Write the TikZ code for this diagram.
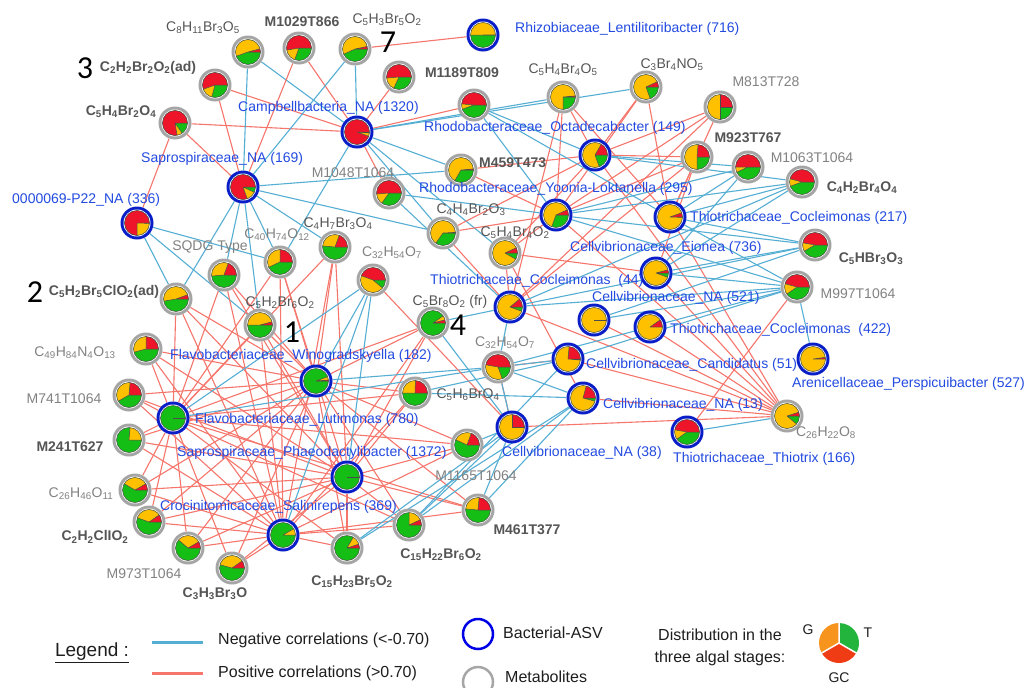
\documentclass[tikz,border=0pt]{standalone}
\usepackage{fontspec}
\setmainfont{Liberation Sans}
\newfontfamily\numfont{Carlito}
\pgfdeclarelayer{bg}
\pgfsetlayers{bg,main}
\definecolor{pr}{RGB}{238,20,42}
\definecolor{py}{RGB}{255,192,0}
\definecolor{pg}{RGB}{20,190,20}
\definecolor{ringb}{RGB}{10,30,200}
\definecolor{ringg}{RGB}{165,165,165}
\definecolor{negc}{RGB}{85,175,212}
\definecolor{posc}{RGB}{246,118,108}
\definecolor{btxt}{RGB}{35,75,225}
\definecolor{mtxt}{RGB}{130,130,130}
\definecolor{mdark}{RGB}{85,85,85}
\definecolor{lgo}{RGB}{247,148,29}
\definecolor{lgg}{RGB}{34,180,60}
\definecolor{lgr}{RGB}{240,60,20}
\definecolor{lgblue}{RGB}{0,0,230}
\definecolor{lgtxt}{RGB}{30,30,30}
\tikzset{
 nd/.style={circle,minimum size=33pt,inner sep=0pt},
 pl/.style={draw=black!70,line width=0.5pt},
 posl/.style={draw=posc,line width=1.1pt},
 negl/.style={draw=negc,line width=1.1pt},
 blab/.style={text=btxt,font=\fontsize{14}{16}\selectfont,inner sep=0pt},
 mlab/.style={text=mtxt,font=\fontsize{14}{16}\selectfont,inner sep=0pt},
 mlabd/.style={text=mdark,font=\fontsize{14}{16}\selectfont,inner sep=0pt},
 mlabb/.style={text=mdark,font=\fontsize{14}{16}\selectfont\bfseries,inner sep=0pt},
 num/.style={font=\numfont\fontsize{32}{34}\selectfont,inner sep=0pt},
 lg/.style={text=lgtxt,font=\fontsize{16}{22}\selectfont,inner sep=0pt},
}
\newcommand\ssb[1]{\textsubscript{#1}}
\newcommand\mkpie[3]{%
 \fill[pg] (#1.center) circle (12.5pt);
 \ifnum#2>0 \fill[pr] (#1.center) -- ++(0:12.5pt) arc[start angle=0,end angle=#2,radius=12.5pt] -- cycle;\fi
 \ifnum#3>#2 \fill[py] (#1.center) -- ++(#2:12.5pt) arc[start angle=#2,end angle=#3,radius=12.5pt] -- cycle;\fi
 \draw[pl] (#1.center) -- ++(0:12.5pt) (#1.center) -- ++(#2:12.5pt) (#1.center) -- ++(#3:12.5pt);
 \draw[pl] (#1.center) circle (12.5pt);}
\newcommand\mkbac[5]{\node[nd] (#1) at (#2,-#3) {};
 \fill[ringb] (#1.center) circle (16.5pt);
 \fill[white] (#1.center) circle (13.5pt);
 \mkpie{#1}{#4}{#5}}
\newcommand\mkmet[5]{\node[nd] (#1) at (#2,-#3) {};
 \fill[ringg] (#1.center) circle (16.5pt);
 \fill[white] (#1.center) circle (13.5pt);
 \mkpie{#1}{#4}{#5}}
\newcommand\edgeset[3]{\foreach \t in {#3}{\draw[#1] (#2) -- (\t);}}
\begin{document}
\begin{tikzpicture}[x=1pt,y=1pt]
\useasboundingbox (0,0) rectangle (1028,-688);
% ---------- metabolites
\mkmet{c8}{248}{52}{15}{200}
\mkmet{c2ad}{215}{85}{200}{255}
\mkmet{c5h4o4}{175}{123}{280}{305}
\mkmet{m1029}{299}{48}{190}{250}
\mkmet{c5h3}{355}{49}{12}{205}
\mkmet{m1189}{399}{77}{185}{245}
\mkmet{mx}{474}{105}{175}{200}
\mkmet{m1048}{389}{193}{185}{235}
\mkmet{m459}{461}{170}{5}{240}
\mkmet{c4h4}{443}{233}{3}{235}
\mkmet{c5h4o2}{505}{253}{25}{330}
\mkmet{c5h4o5}{563}{97}{5}{270}
\mkmet{c3br}{646}{87}{25}{290}
\mkmet{m813}{720}{107}{90}{270}
\mkmet{m923}{697}{157}{85}{270}
\mkmet{m1063}{748}{167}{180}{205}
\mkmet{c4h2}{802}{182}{165}{200}
\mkmet{c5hbr}{815}{245}{170}{210}
\mkmet{m997}{797}{287}{165}{215}
\mkmet{c26h22}{787}{416}{18}{320}
\mkmet{sqdg}{224}{275}{70}{185}
\mkmet{c5h2cl}{176}{299}{20}{190}
\mkmet{c49}{146}{349}{90}{195}
\mkmet{m741}{129}{395}{85}{210}
\mkmet{m241}{129}{440}{0}{85}
\mkmet{c26h46}{135}{490}{30}{150}
\mkmet{c2h2cl}{149}{522}{35}{160}
\mkmet{m973}{188}{548}{30}{140}
\mkmet{c3h3}{232}{568}{35}{165}
\mkmet{c15h23}{347}{548}{18}{60}
\mkmet{c15h22}{409}{525}{25}{90}
\mkmet{m461}{478}{510}{85}{175}
\mkmet{m1165}{467}{445}{70}{155}
\mkmet{c5h6}{415}{393}{88}{180}
\mkmet{c5h2br6}{260}{325}{15}{180}
\mkmet{c40}{280}{262}{90}{205}
\mkmet{c4h7}{335}{247}{70}{175}
\mkmet{c32a}{373}{280}{160}{320}
\mkmet{c5br8}{433}{323}{15}{35}
\mkmet{c32b}{498}{367}{170}{290}
% ---------- bacteria
\mkbac{rhizo}{483}{35}{1}{180}
\mkbac{campb}{357}{132}{340}{355}
\mkbac{sapro}{243}{187}{290}{335}
\mkbac{p22}{137}{223}{270}{358}
\mkbac{octa}{595}{155}{60}{290}
\mkbac{yoon}{556}{215}{25}{250}
\mkbac{coc217}{670}{217}{20}{358}
\mkbac{eion}{656}{273}{15}{340}
\mkbac{coc44}{510}{307}{40}{340}
\mkbac{na521}{594}{320}{0}{360}
\mkbac{coc422}{650}{327}{35}{360}
\mkbac{cand}{568}{359}{85}{355}
\mkbac{na13}{583}{398}{75}{345}
\mkbac{thiox}{687}{432}{170}{215}
\mkbac{na38}{512}{427}{90}{360}
\mkbac{pers}{813}{359}{8}{360}
\mkbac{wino}{316}{381}{5}{20}
\mkbac{luti}{173}{418}{0}{0}
\mkbac{phaeo}{347}{477}{0}{0}
\mkbac{salin}{283}{535}{0}{30}
% ---------- edges
\begin{pgfonlayer}{bg}
\fill[white] (0,0) rectangle (1028,-688);
\edgeset{posl}{rhizo}{c5h3}
\edgeset{posl}{campb}{m1029,m1189,c2ad,c5h4o4,mx,m1048}
\edgeset{negl}{campb}{c8,c5h3,c5h4o5,c3br,m459,c4h4,c5h4o2,c40}
\edgeset{posl}{sapro}{c2ad,c5h4o4,m1029}
\edgeset{negl}{sapro}{c8,c5h3,m459,c4h4,sqdg,c5h2cl,c40,c4h7,c5h2br6}
\edgeset{posl}{p22}{c5h4o4}
\edgeset{negl}{p22}{c5h2cl,c5h2br6,c40}
\foreach \b in {wino,luti,phaeo,salin}{%
 \edgeset{posl}{\b}{c5h2cl,sqdg,c40,c4h7,c5h2br6,c49,m741,m241,c26h46,c2h2cl,m973,c3h3,c15h23,c15h22,m461,m1165,c5h6,c5br8}}
\edgeset{negl}{c32a}{wino,luti,phaeo,salin}
\edgeset{negl}{c32b}{wino,luti}
\edgeset{posl}{c32a}{na38}
\edgeset{posl}{octa}{c5h4o5,c3br,m813,m923,c4h4,c5h4o2,m459,c26h22}
\edgeset{posl}{yoon}{c5h4o5,c3br,m813,m923,c5h4o2,c4h4,c26h22,m459}
\edgeset{posl}{coc217}{c3br,m813,m923,c26h22,c5h4o5}
\edgeset{posl}{coc44}{c5h4o5,m813,c5h4o2,c26h22,c4h4,m923}
\edgeset{posl}{eion}{c26h22,c5h4o2,m923}
\edgeset{posl}{c26h22}{na521,coc422,cand,na13,na38}
\edgeset{posl}{c32b}{cand,na38}
\edgeset{posl}{na13}{c5h4o2}
\edgeset{posl}{thiox}{m997}
\edgeset{negl}{mx}{octa,yoon,coc217}
\edgeset{negl}{m1063}{coc217,octa,yoon,eion}
\edgeset{negl}{c4h2}{coc217,octa,yoon,eion,coc44}
\edgeset{negl}{c5hbr}{coc217,yoon,eion,coc44,na521}
\edgeset{negl}{m997}{coc217,eion,coc44,na521,coc422,cand,pers,yoon}
\edgeset{negl}{c32b}{coc44,coc422,cand,na13,na38}
\edgeset{negl}{m1048}{yoon,coc44}
\edgeset{negl}{thiox}{c26h22}
\edgeset{negl}{c15h23}{na38,na13}
\edgeset{negl}{c15h22}{na38,na13,cand}
\edgeset{negl}{m461}{na38,na13}
\edgeset{negl}{m1165}{na38}
\edgeset{negl}{c5br8}{coc44,na38}
\edgeset{negl}{c5h6}{cand,na13}
\end{pgfonlayer}
% ---------- bacteria labels
\node[blab,anchor=west] (lrhizo) at (515,-29) {Rhizobiaceae\_Lentilitoribacter (716)};
\node[blab,anchor=west] (lcampb) at (238,-108) {Campbellbacteria\_NA (1320)};
\node[blab,anchor=west] (lsapro) at (141,-159) {Saprospiraceae\_NA (169)};
\node[blab,anchor=west] (lp22) at (12,-200) {0000069-P22\_NA (336)};
\node[blab,anchor=west] (locta) at (424,-128) {Rhodobacteraceae\_Octadecabacter (149)};
\node[blab,anchor=west] (lyoon) at (419,-189) {Rhodobacteraceae\_Yoonia-Loktanella (295)};
\node[blab,anchor=west] (lcoc217) at (690,-218) {Thiotrichaceae\_Cocleimonas (217)};
\node[blab,anchor=west] (leion) at (570,-248) {Cellvibrionaceae\_Eionea (736)};
\node[blab,anchor=west] (lcoc44) at (430,-281) {Thiotrichaceae\_Cocleimonas\ \ (44)};
\node[blab,anchor=west] (lna521) at (592,-298) {Cellvibrionaceae\_NA (521)};
\node[blab,anchor=west] (lcoc422) at (670,-330) {Thiotrichaceae\_Cocleimonas\ \ (422)};
\node[blab,anchor=west] (lcand) at (586,-365) {Cellvibrionaceae\_Candidatus (51)};
\node[blab,anchor=west] (lna13) at (603,-405) {Cellvibrionaceae\_NA (13)};
\node[blab,anchor=west] (lthiox) at (673,-459) {Thiotrichaceae\_Thiotrix (166)};
\node[blab,anchor=west] (lna38) at (502,-453) {Cellvibrionaceae\_NA (38)};
\node[blab,anchor=west] (lpers) at (792,-384) {Arenicellaceae\_Perspicuibacter (527)};
\node[blab,anchor=west] (lwino) at (170,-356) {Flavobacteriaceae\_Winogradskyella (182)};
\node[blab,anchor=west] (lluti) at (195,-420) {Flavobacteriaceae\_Lutimonas (780)};
\node[blab,anchor=west] (lphaeo) at (177,-453) {Saprospiraceae\_Phaeodactylibacter (1372)};
\node[blab,anchor=west] (lsalin) at (160,-507) {Crocinitomicaceae\_Salinirepens (369)};
% ---------- metabolite labels
\node[mlabd] (lc8) at (203,-28) {C\ssb{8}H\ssb{11}Br\ssb{3}O\ssb{5}};
\node[mlabb] (lc2ad) at (148,-68) {C\ssb{2}H\ssb{2}Br\ssb{2}O\ssb{2}(ad)};
\node[mlabb] (lc5h4o4) at (121,-112) {C\ssb{5}H\ssb{4}Br\ssb{2}O\ssb{4}};
\node[mlabb] (lm1029) at (302,-22) {M1029T866};
\node[mlabd] (lc5h3) at (387,-20) {C\ssb{5}H\ssb{3}Br\ssb{5}O\ssb{2}};
\node[mlabb] (lm1189) at (462,-73) {M1189T809};
\node[mlab] (lm1048) at (353,-173) {M1048T1064};
\node[mlabb,anchor=west] (lm459) at (479,-163) {M459T473};
\node[mlabd] (lc4h4) at (471,-210) {C\ssb{4}H\ssb{4}Br\ssb{2}O\ssb{3}};
\node[mlabd] (lc5h4o2) at (515,-233) {C\ssb{5}H\ssb{4}Br\ssb{4}O\ssb{2}};
\node[mlabd] (lc5h4o5) at (563,-70) {C\ssb{5}H\ssb{4}Br\ssb{4}O\ssb{5}};
\node[mlabd] (lc3br) at (672,-65) {C\ssb{3}Br\ssb{4}NO\ssb{5}};
\node[mlab] (lm813) at (766,-82) {M813T728};
\node[mlabb] (lm923) at (748,-138) {M923T767};
\node[mlab] (lm1063) at (812,-158) {M1063T1064};
\node[mlabb] (lc4h2) at (862,-188) {C\ssb{4}H\ssb{2}Br\ssb{4}O\ssb{4}};
\node[mlabb] (lc5hbr) at (871,-259) {C\ssb{5}HBr\ssb{3}O\ssb{3}};
\node[mlab] (lm997) at (858,-294) {M997T1064};
\node[mlab] (lc26h22) at (826,-433) {C\ssb{26}H\ssb{22}O\ssb{8}};
\node[mlab] (lsqdg) at (210,-247) {SQDG Type};
\node[mlab] (lc40) at (277,-235) {C\ssb{40}H\ssb{74}O\ssb{12}};
\node[mlabd] (lc4h7) at (338,-224) {C\ssb{4}H\ssb{7}Br\ssb{3}O\ssb{4}};
\node[mlab] (lc32a) at (392,-253) {C\ssb{32}H\ssb{54}O\ssb{7}};
\node[mlabd] (lc5h2br6) at (280,-303) {C\ssb{5}H\ssb{2}Br\ssb{6}O\ssb{2}};
\node[mlabd] (lc5br8) at (450,-302) {C\ssb{5}Br\ssb{8}O\ssb{2} (fr)};
\node[mlab] (lc32b) at (505,-343) {C\ssb{32}H\ssb{54}O\ssb{7}};
\node[mlabd] (lc5h6) at (468,-395) {C\ssb{5}H\ssb{6}BrO\ssb{4}};
\node[mlab] (lm1165) at (476,-476) {M1165T1064};
\node[mlabb] (lm461) at (527,-530) {M461T377};
\node[mlabb] (lc15h22) at (441,-555) {C\ssb{15}H\ssb{22}Br\ssb{6}O\ssb{2}};
\node[mlabb] (lc15h23) at (352,-582) {C\ssb{15}H\ssb{23}Br\ssb{5}O\ssb{2}};
\node[mlabb] (lc3h3) at (215,-594) {C\ssb{3}H\ssb{3}Br\ssb{3}O};
\node[mlab] (lm973) at (144,-574) {M973T1064};
\node[mlabb] (lc2h2cl) at (95,-537) {C\ssb{2}H\ssb{2}ClIO\ssb{2}};
\node[mlab] (lc26h46) at (81,-494) {C\ssb{26}H\ssb{46}O\ssb{11}};
\node[mlabb] (lm241) at (70,-447) {M241T627};
\node[mlab] (lm741) at (64,-399) {M741T1064};
\node[mlab] (lc49) at (75,-353) {C\ssb{49}H\ssb{84}N\ssb{4}O\ssb{13}};
\node[mlabb] (lc5h2cl) at (104,-292) {C\ssb{5}H\ssb{2}Br\ssb{5}ClO\ssb{2}(ad)};
% ---------- numbers
\node[num] (n3) at (85,-68) {3};
\node[num] (n7) at (388,-42) {7};
\node[num] (n2) at (35,-292) {2};
\node[num] (n1) at (292,-332) {1};
\node[num] (n4) at (458,-325) {4};
% ---------- legend
\node[lg] (lgd) at (92,-653) {\fontsize{19}{21}\selectfont\underline{Legend :}};
\coordinate (nla) at (152,-642); \coordinate (nlb) at (203,-642);
\coordinate (pla) at (152,-673); \coordinate (plb) at (203,-673);
\draw[negc,line width=3pt] (nla) -- (nlb);
\draw[posc,line width=3pt] (pla) -- (plb);
\node[lg,anchor=west] (lneg) at (218,-640) {Negative correlations (<-0.70)};
\node[lg,anchor=west] (lpos) at (218,-673) {Positive correlations (>0.70)};
\node[circle,draw=lgblue,line width=2.5pt,minimum size=30pt,inner sep=0pt] (lbac) at (478,-634) {};
\node[lg,anchor=west] (lbact) at (503,-633) {Bacterial-ASV};
\node[circle,draw=black!35,line width=2.5pt,minimum size=30pt,inner sep=0pt] (lmet) at (478,-682) {};
\node[lg,anchor=west] (lmett) at (505,-677) {Metabolites};
\node[lg,align=center] (ldist) at (720,-647) {Distribution in the\\three algal stages:};
\coordinate (lpc) at (839,-643);
\fill[lgo] (lpc) -- ++(90:20pt) arc[start angle=90,end angle=210,radius=20pt] -- cycle;
\fill[lgr] (lpc) -- ++(210:20pt) arc[start angle=210,end angle=330,radius=20pt] -- cycle;
\fill[lgg] (lpc) -- ++(330:20pt) arc[start angle=330,end angle=450,radius=20pt] -- cycle;
\draw[white,line width=1.5pt] (lpc) -- ++(90:21pt) (lpc) -- ++(210:21pt) (lpc) -- ++(330:21pt);
\node[lg,font=\fontsize{14}{16}\selectfont] (lgG) at (808,-630) {G};
\node[lg,font=\fontsize{14}{16}\selectfont] (lgT) at (868,-633) {T};
\node[lg,font=\fontsize{14}{16}\selectfont] (lgGC) at (839,-678) {GC};
\end{tikzpicture}
\end{document}
